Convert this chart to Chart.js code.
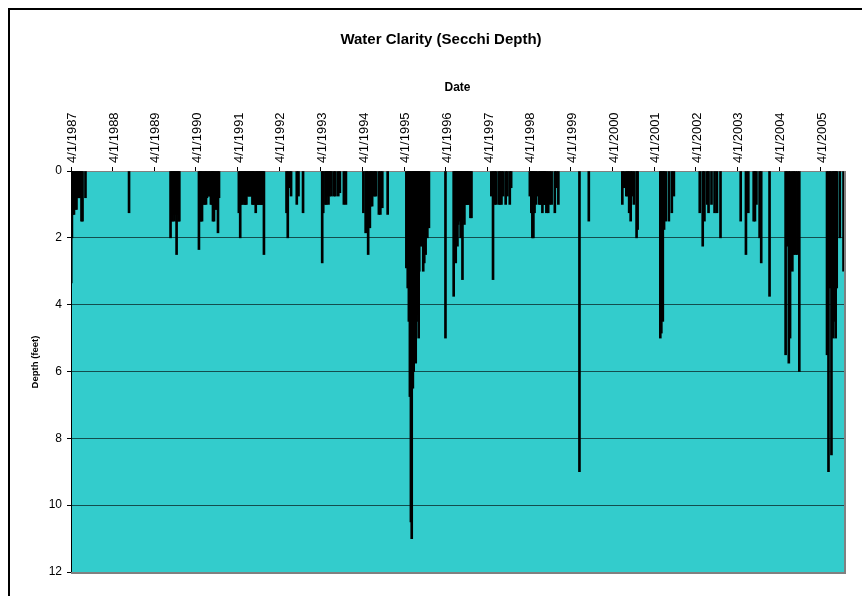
<!DOCTYPE html>
<html>
<head>
<meta charset="utf-8">
<title>Water Clarity (Secchi Depth)</title>
<script src="https://cdn.jsdelivr.net/npm/chart.js@4.4.1/dist/chart.umd.min.js"></script>
<style>
  html, body { margin: 0; padding: 0; background: #ffffff; }
  canvas { display: block; }
</style>
</head>
<body>
<canvas id="secchi" width="862" height="596"></canvas>
<script>
// ---- labels ----
const chartTitle = 'Water Clarity (Secchi Depth)';
const xAxisTitle = 'Date';
const yAxisTitle = 'Depth (feet)';

// ---- axes ----
const yearTicks = ['4/1/1987', '4/1/1988', '4/1/1989', '4/1/1990', '4/1/1991', '4/1/1992',
  '4/1/1993', '4/1/1994', '4/1/1995', '4/1/1996', '4/1/1997', '4/1/1998', '4/1/1999',
  '4/1/2000', '4/1/2001', '4/1/2002', '4/1/2003', '4/1/2004', '4/1/2005'];
const dateRange = ['4/1/1987', '10/22/2005'];
const depthTicks = [0, 2, 4, 6, 8, 10, 12];

// ---- Secchi readings: sample date and depth (feet) ----
const sampleDates = [
  '4/3/1987', '4/9/1987', '4/18/1987', '4/27/1987', '5/10/1987', '5/19/1987', '5/28/1987',
  '6/6/1987', '6/15/1987', '6/23/1987', '7/2/1987', '7/11/1987', '8/6/1987',
  '8/22/1988',
  '8/21/1989', '8/30/1989', '9/8/1989', '9/17/1989', '9/25/1989', '10/4/1989', '10/13/1989',
  '10/21/1989', '10/30/1989', '11/6/1989',
  '4/27/1990', '5/6/1990', '5/15/1990', '5/24/1990', '6/6/1990', '6/15/1990', '6/28/1990',
  '7/6/1990', '7/20/1990', '7/28/1990', '8/10/1990', '8/19/1990', '8/28/1990', '9/6/1990',
  '9/19/1990', '9/28/1990', '10/11/1990', '10/20/1990',
  '4/12/1991', '4/24/1991', '5/4/1991', '5/13/1991', '5/22/1991', '5/31/1991', '6/8/1991',
  '6/17/1991', '6/26/1991', '7/5/1991', '7/13/1991', '7/22/1991', '7/31/1991', '8/9/1991',
  '8/17/1991', '8/26/1991', '9/7/1991', '9/17/1991', '9/26/1991', '10/5/1991', '10/14/1991',
  '10/22/1991', '10/31/1991', '11/9/1991', '11/18/1991',
  '6/3/1992', '6/14/1992', '7/2/1992', '7/13/1992', '9/1/1992', '9/16/1992', '10/26/1992',
  '4/12/1993', '4/21/1993', '5/10/1993', '5/19/1993', '5/28/1993', '6/6/1993', '6/15/1993',
  '6/23/1993', '7/2/1993', '7/24/1993', '8/6/1993', '8/31/1993', '9/14/1993', '10/19/1993',
  '11/6/1993',
  '4/8/1994', '4/28/1994', '5/7/1994', '5/20/1994', '6/4/1994', '6/14/1994', '6/24/1994',
  '7/7/1994', '7/18/1994', '7/28/1994', '8/22/1994', '9/4/1994', '9/21/1994', '11/7/1994',
  '4/20/1995', '5/2/1995', '5/12/1995', '5/21/1995', '5/30/1995', '6/6/1995', '6/16/1995',
  '6/23/1995', '6/29/1995', '7/5/1995', '7/11/1995', '7/19/1995', '7/26/1995', '8/6/1995',
  '8/11/1995', '8/17/1995', '8/24/1995', '8/30/1995', '9/6/1995', '9/15/1995', '9/24/1995',
  '10/1/1995', '10/6/1995', '10/14/1995', '10/21/1995', '10/28/1995', '11/4/1995',
  '3/28/1996', '6/8/1996', '6/17/1996', '6/26/1996', '7/4/1996', '7/11/1996', '7/18/1996',
  '7/24/1996', '8/2/1996', '8/8/1996', '8/17/1996', '8/24/1996', '9/2/1996', '9/10/1996',
  '9/19/1996', '9/28/1996', '10/4/1996', '10/11/1996', '10/22/1996', '11/2/1996', '11/11/1996',
  '5/4/1997', '5/19/1997', '6/2/1997', '6/13/1997', '7/7/1997', '7/20/1997', '8/1/1997',
  '8/16/1997', '9/7/1997', '9/22/1997', '10/13/1997', '10/25/1997',
  '4/7/1998', '4/20/1998', '4/29/1998', '5/8/1998', '5/18/1998', '5/28/1998', '6/12/1998',
  '6/25/1998', '7/8/1998', '7/17/1998', '7/26/1998', '8/4/1998', '8/12/1998', '8/21/1998',
  '8/30/1998', '9/15/1998', '9/29/1998', '10/15/1998', '11/12/1998', '11/25/1998', '12/13/1998',
  '6/16/1999', '9/6/1999',
  '6/26/2000', '7/9/2000', '7/31/2000', '8/11/2000', '8/25/2000', '9/7/2000', '9/20/2000',
  '10/5/2000', '10/29/2000', '11/7/2000',
  '5/25/2001', '6/3/2001', '6/16/2001', '6/27/2001', '7/11/2001', '8/8/2001', '9/3/2001',
  '9/21/2001',
  '5/6/2002', '6/1/2002', '6/16/2002', '7/11/2002', '7/22/2002', '8/17/2002', '9/13/2002',
  '10/4/2002', '11/4/2002',
  '4/30/2003', '6/15/2003', '7/6/2003', '8/22/2003', '9/2/2003', '9/15/2003', '10/13/2003',
  '10/27/2003',
  '1/8/2004', '5/28/2004', '6/9/2004', '6/25/2004', '7/6/2004', '7/26/2004', '8/8/2004',
  '8/23/2004', '9/8/2004', '9/25/2004',
  '5/26/2005', '6/8/2005', '6/21/2005', '7/4/2005', '7/18/2005', '7/30/2005', '8/10/2005',
  '8/19/2005', '9/15/2005', '10/18/2005'
];
const secchiDepthFt = [
  3.35, 2.0, 1.3, 1.3, 1.15, 1.15, 0.8,
  0.8, 0.8, 0.8, 1.5, 1.5, 0.8,
  1.25,
  2.0, 1.5, 1.5, 1.3, 1.5, 1.3, 2.5,
  1.3, 1.5, 1.5,
  2.35, 1.5, 1.5, 1.5, 1.0, 1.0, 1.0,
  0.8, 0.75, 0.75, 1.0, 1.0, 1.5, 1.5,
  1.15, 1.15, 1.85, 0.8,
  1.25, 2.0, 1.0, 1.0, 0.9, 1.0, 1.0,
  1.0, 0.75, 0.75, 0.75, 0.75, 0.75, 1.0,
  1.0, 1.0, 1.25, 1.0, 1.0, 1.0, 1.0,
  1.0, 1.0, 1.0, 2.5,
  1.25, 2.0, 0.5, 0.75, 1.0, 0.75, 1.25,
  2.75, 1.25, 1.0, 1.0, 0.75, 1.0, 0.75,
  0.5, 0.75, 0.75, 0.75, 0.75, 0.65, 1.0,
  1.0,
  1.25, 1.85, 1.5, 2.5, 1.7, 1.05, 1.05,
  0.75, 0.75, 0.75, 1.3, 1.3, 1.1, 1.3,
  2.9, 3.5, 4.5, 6.75, 10.5, 11.0, 6.5,
  6.0, 5.5, 4.0, 5.75, 4.5, 4.3, 5.0,
  3.0, 2.25, 2.0, 1.5, 2.25, 3.0, 2.75,
  2.0, 2.5, 1.7, 2.0, 1.5, 1.7,
  5.0, 3.75, 2.0, 2.75, 2.0, 2.25, 1.6,
  1.5, 1.2, 2.0, 1.5, 3.25, 1.4, 1.6,
  1.0, 1.0, 1.0, 1.0, 1.0, 1.4, 1.4,
  0.75, 3.25, 1.0, 1.0, 1.0, 1.0, 1.0,
  0.75, 1.0, 0.75, 1.0, 0.5,
  0.75, 1.25, 2.0, 2.0, 1.25, 1.0, 0.75,
  1.0, 1.0, 1.0, 1.25, 1.0, 1.0, 1.0,
  1.25, 1.25, 1.0, 1.0, 1.25, 0.5, 1.0,
  9.0, 1.5,
  1.0, 0.5, 0.75, 0.75, 1.25, 1.5, 0.75,
  1.0, 2.0, 1.75,
  5.0, 4.85, 4.5, 1.75, 1.5, 1.5, 1.25,
  0.75,
  1.25, 2.25, 1.5, 1.0, 1.25, 1.0, 1.25,
  1.25, 2.0,
  1.5, 2.5, 1.25, 1.5, 1.5, 1.0, 2.0,
  2.75,
  3.75, 5.5, 2.25, 5.75, 5.0, 3.0, 2.5,
  2.5, 2.5, 6.0,
  5.5, 9.0, 3.5, 8.5, 5.0, 4.5, 5.0,
  3.5, 2.0, 3.0
];

// 'M/D/YYYY' -> whole days since 1970-01-01 (UTC)
function dayNumber(s) {
  const [m, d, y] = s.split('/').map(Number);
  return Date.UTC(y, m - 1, d) / 86400000;
}

const FONT = "'Liberation Sans', Arial, Helvetica, sans-serif";
const DATE_TICK_SIZE = 13;

// Plot-area fill, plot frame, outer chart frame and the two free-standing titles
const chartDecor = {
  id: 'chartDecor',
  beforeDraw(chart) {
    const { ctx, chartArea: a } = chart;
    ctx.save();
    ctx.fillStyle = '#33CCCC';
    ctx.fillRect(a.left, a.top, a.right - a.left, a.bottom - a.top);
    ctx.restore();
  },
  afterDraw(chart) {
    const { ctx, chartArea: a } = chart;
    ctx.save();
    // grey plot-area edge on the right and bottom
    ctx.fillStyle = '#808080';
    ctx.fillRect(a.right, a.top, 2, a.bottom - a.top + 2);
    ctx.fillRect(a.left, a.bottom, a.right - a.left + 2, 2);
    // outer chart border
    ctx.fillStyle = '#000000';
    ctx.fillRect(8, 8, chart.width - 8, 2);
    ctx.fillRect(8, 8, 2, chart.height - 8);
    // chart title
    ctx.fillStyle = '#000000';
    ctx.textAlign = 'center';
    ctx.textBaseline = 'middle';
    ctx.font = 'bold 15px ' + FONT;
    ctx.fillText(chartTitle, 441, 40);
    // value-axis title
    ctx.font = 'bold 9.5px ' + FONT;
    ctx.translate(35, 362);
    ctx.rotate(-Math.PI / 2);
    ctx.fillText(yAxisTitle, 0, 0);
    ctx.restore();
  }
};

new Chart(document.getElementById('secchi'), {
  type: 'bar',
  data: {
    datasets: [{
      label: 'Secchi depth',
      data: sampleDates.map((d, i) => ({ x: dayNumber(d), y: secchiDepthFt[i] })),
      backgroundColor: '#000000',
      borderWidth: 0,
      barThickness: 2,
      grouped: false
    }]
  },
  options: {
    responsive: false,
    animation: false,
    layout: { padding: { left: 14, right: 18, top: 58, bottom: 24 } },
    plugins: {
      legend: { display: false },
      tooltip: { enabled: false },
      title: { display: false }
    },
    scales: {
      x: {
        type: 'linear',
        position: 'top',
        min: dayNumber(dateRange[0]),
        max: dayNumber(dateRange[1]),
        offset: false,
        afterBuildTicks: s => { s.ticks = yearTicks.map(t => ({ value: dayNumber(t) })); },
        afterFit: s => { s.height = 113; },
        ticks: {
          autoSkip: false,
          minRotation: 90,
          maxRotation: 90,
          padding: 4,
          // centre the upright date labels on their tick marks
          labelOffset: DATE_TICK_SIZE * 1.2 + 1.5,
          color: '#000000',
          font: { family: FONT, size: DATE_TICK_SIZE },
          callback: (v, i) => yearTicks[i]
        },
        grid: {
          offset: false,
          drawOnChartArea: false,
          drawTicks: true,
          tickLength: 4,
          tickColor: '#000000'
        },
        border: { color: '#808080', width: 1 },
        title: {
          display: true,
          text: xAxisTitle,
          color: '#000000',
          font: { family: FONT, size: 12, weight: 'bold' },
          padding: { top: 22, bottom: 0 }
        }
      },
      y: {
        type: 'linear',
        reverse: true,
        min: 0,
        max: 12,
        afterBuildTicks: s => { s.ticks = depthTicks.map(v => ({ value: v })); },
        afterFit: s => { s.width = 57; },
        ticks: {
          padding: 5,
          color: '#000000',
          font: { family: FONT, size: 12 }
        },
        grid: {
          color: c => (c.tick && (c.tick.value === 0 || c.tick.value === 12)) ? 'rgba(0,0,0,0)' : 'rgba(0,0,0,0.62)',
          lineWidth: 1,
          tickLength: 4,
          tickColor: '#000000'
        },
        border: { color: '#000000', width: 1 }
      }
    }
  },
  plugins: [chartDecor]
});
</script>
</body>
</html>
